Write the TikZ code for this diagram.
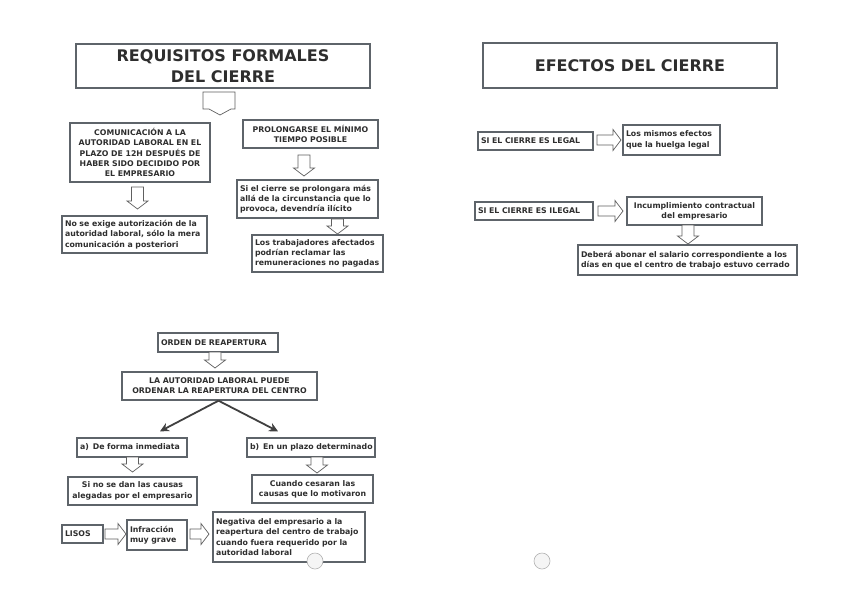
\documentclass[tikz,border=0pt]{standalone}
\usepackage{fontspec}
\setmainfont{DejaVu Sans}
\usetikzlibrary{shadows,arrows.meta,calc}
\definecolor{txt}{HTML}{2E2E2E}
\definecolor{bord}{HTML}{5E646A}
\tikzset{
  box/.style={draw=bord, line width=1.4pt, fill=white, text=txt,
    drop shadow={shadow xshift=1.3pt, shadow yshift=-1.3pt, fill=gray!45, opacity=1},
    inner xsep=3pt, inner ysep=1pt, font=\fontsize{7.8}{10.3}\selectfont\bfseries},
  titlebox/.style={box, line width=1.7pt, font=\fontsize{16}{20.5}\selectfont\bfseries},
  harrow/.style={draw=gray!75!black, line width=0.7pt, fill=white},
  darkarrow/.style={draw=black!75, line width=1.8pt, -{Stealth[length=9pt,width=9pt]}},
  hole/.style={draw=gray!60, fill=gray!8, line width=0.6pt}
}
\newcommand{\darr}[3]{% x, ytop, ybottom
  \draw[harrow] (#1-6,#2) -- (#1+6,#2) -- (#1+6,#3-8) -- (#1+10.5,#3-8) -- (#1,#3) -- (#1-10.5,#3-8) -- (#1-6,#3-8) -- cycle;}
\newcommand{\rarr}[3]{% xleft, xright, y
  \draw[harrow] (#1,#3-5) -- (#2-8,#3-5) -- (#2-8,#3-10.5) -- (#2,#3) -- (#2-8,#3+10.5) -- (#2-8,#3+5) -- (#1,#3+5) -- cycle;}
\begin{document}
\begin{tikzpicture}[x=1pt,y=-1pt]
\useasboundingbox[fill=white] (0,0) rectangle (848,590);

% ---------- top left ----------
\node[titlebox, minimum width=294pt, minimum height=44pt, align=center] (t1) at (223,66) {REQUISITOS FORMALES\\DEL CIERRE};
\draw[harrow] (203,92) -- (235,92) -- (235,109) -- (231,109) -- (220,115) -- (209,109) -- (203,109) -- cycle;
\node[box, text width=134pt, minimum height=59pt, align=center] (comm) at (140,152.5) {COMUNICACIÓN A LA\\AUTORIDAD LABORAL EN EL\\PLAZO DE 12H DESPUÉS DE\\HABER SIDO DECIDIDO POR\\EL EMPRESARIO};
\node[box, text width=129pt, minimum height=28pt, align=center] (prol) at (310.5,134) {PROLONGARSE EL MÍNIMO\\TIEMPO POSIBLE};
\node[box, text width=139pt, minimum height=37pt, align=left] (noex) at (134.5,234.5) {No se exige autorización de la\\autoridad laboral, sólo la mera\\comunicación a posteriori};
\node[box, text width=135pt, minimum height=38pt, align=left] (siel) at (307.5,199) {Si el cierre se prolongara más\\allá de la circunstancia que lo\\provoca, devendría ilícito};
\node[box, text width=125pt, minimum height=37pt, align=left] (trab) at (317.5,253.5) {Los trabajadores afectados\\podrían reclamar las\\remuneraciones no pagadas};
\darr{137.5}{187}{209}
\darr{304}{155}{176}
\darr{337.5}{219}{234}

% ---------- top right ----------
\node[titlebox, minimum width=294pt, minimum height=45pt, align=center] (t2) at (630,65.5) {EFECTOS DEL CIERRE};
\node[box, text width=109pt, minimum height=18pt, align=left] (legal) at (535.5,141) {SI EL CIERRE ES LEGAL};
\node[box, text width=91pt, minimum height=30pt, align=left] (mism) at (671.5,140) {Los mismos efectos\\que la huelga legal};
\node[box, text width=112pt, minimum height=18pt, align=left] (ilegal) at (534,211) {SI EL CIERRE ES ILEGAL};
\node[box, text width=129pt, minimum height=28pt, align=center] (incu) at (694.5,211) {Incumplimiento contractual\\del empresario};
\node[box, text width=213pt, minimum height=30pt, align=left] (deb) at (687.5,260) {Deberá abonar el salario correspondiente a los\\días en que el centro de trabajo estuvo cerrado};
\rarr{597}{621}{140}
\rarr{598}{623}{211}
\darr{688}{225}{244}

% ---------- bottom ----------
\node[box, text width=114pt, minimum height=19pt, align=left] (ord) at (218,342.5) {ORDEN DE REAPERTURA};
\node[box, text width=189pt, minimum height=28pt, align=center] (aut) at (219.5,386) {LA AUTORIDAD LABORAL PUEDE\\ORDENAR LA REAPERTURA DEL CENTRO};
\node[box, text width=104pt, minimum height=19pt, align=left] (a) at (132,447.5) {\mbox{a)\hspace{4pt}De forma inmediata}};
\node[box, text width=122pt, minimum height=19pt, align=left] (b) at (311,447.5) {\mbox{b)\hspace{4pt}En un plazo determinado}};
\node[box, text width=123pt, minimum height=28pt, align=center] (sino) at (132.5,491) {Si no se dan las causas\\alegadas por el empresario};
\node[box, text width=115pt, minimum height=28pt, align=center] (cuan) at (312.5,489) {Cuando cesaran las\\causas que lo motivaron};
\node[box, text width=35pt, minimum height=18pt, align=left] (lisos) at (82.5,534) {LISOS};
\node[box, text width=54pt, minimum height=30pt, align=left] (infr) at (157,535) {Infracción\\muy grave};
\node[box, text width=146pt, minimum height=50pt, align=left] (neg) at (289,537) {Negativa del empresario a la\\reapertura del centro de trabajo\\cuando fuera requerido por la\\autoridad laboral};
\darr{215}{352}{368}
\darr{132.5}{457}{472}
\darr{317}{457}{473}
\rarr{105}{126}{534}
\rarr{190}{209}{534}
\draw[darkarrow] ($(aut.south)+(-1,0)$) -- ($(a.north)+(28,-6)$);
\draw[darkarrow] ($(aut.south)+(-1,0)$) -- ($(b.north)+(-33,-6)$);

% punch holes
\draw[hole] (315,561) circle (8);
\draw[hole] (542,561) circle (8);
\end{tikzpicture}
\end{document}
